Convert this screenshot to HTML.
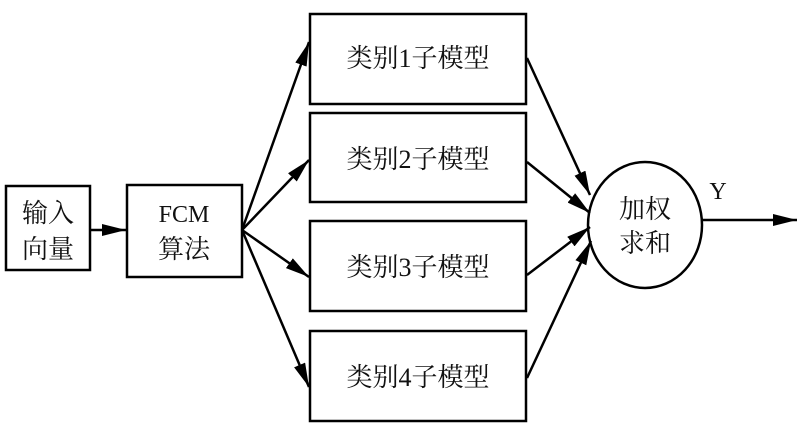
<!DOCTYPE html>
<html><head><meta charset="utf-8"><style>
html,body{margin:0;padding:0;background:#fff;}
svg text{font-family:"Liberation Serif","Noto Serif CJK SC","Noto Sans CJK SC",serif;fill:#111;}
</style></head><body>
<svg width="800" height="430" viewBox="0 0 800 430" xmlns="http://www.w3.org/2000/svg">
<defs><marker id="a" markerWidth="10" markerHeight="8" refX="10" refY="4" orient="auto" markerUnits="userSpaceOnUse" viewBox="0 0 10 8"><path d="M0,0 L10,4 L0,8 z" fill="#000"/></marker>
<marker id="b" markerWidth="24" markerHeight="12" refX="24" refY="6" orient="auto" markerUnits="userSpaceOnUse" viewBox="0 0 24 12"><path d="M0,0 L24,6 L0,12 z" fill="#000"/></marker></defs>
<g fill="none" stroke="#000" stroke-width="2.5">
<rect x="6" y="186" width="84" height="84"/>
<rect x="127" y="185" width="115" height="92"/>
<rect x="310" y="14" width="216" height="90"/>
<rect x="310" y="113" width="216" height="89"/>
<rect x="310" y="221" width="216" height="90"/>
<rect x="310" y="331" width="216" height="90"/>
<ellipse cx="645" cy="225" rx="57" ry="63"/>
</g>
<g stroke="#000" stroke-width="2.5" marker-end="url(#b)">
<line x1="90" y1="230" x2="126" y2="230"/>
<line x1="242" y1="230" x2="309" y2="42"/>
<line x1="242" y1="230" x2="309" y2="160"/>
<line x1="242" y1="230" x2="309" y2="277"/>
<line x1="242" y1="230" x2="309" y2="387"/>
<line x1="527" y1="58" x2="590" y2="195"/>
<line x1="527" y1="162" x2="590" y2="213"/>
<line x1="527" y1="275" x2="590" y2="227"/>
<line x1="527" y1="378" x2="591" y2="241"/>
<line x1="703" y1="220" x2="797" y2="220"/>
</g>
<g font-size="26" text-anchor="middle">
<text x="48" y="222">输入</text>
<text x="48" y="258">向量</text>
<text x="184" y="222" font-size="24">FCM</text>
<text x="184" y="258">算法</text>
<text x="418" y="67">类别1子模型</text>
<text x="418" y="168">类别2子模型</text>
<text x="418" y="276">类别3子模型</text>
<text x="418" y="386">类别4子模型</text>
<text x="645" y="218">加权</text>
<text x="645" y="252">求和</text>
<text x="718" y="199" font-size="24">Y</text>
</g>
</svg>
</body></html>
